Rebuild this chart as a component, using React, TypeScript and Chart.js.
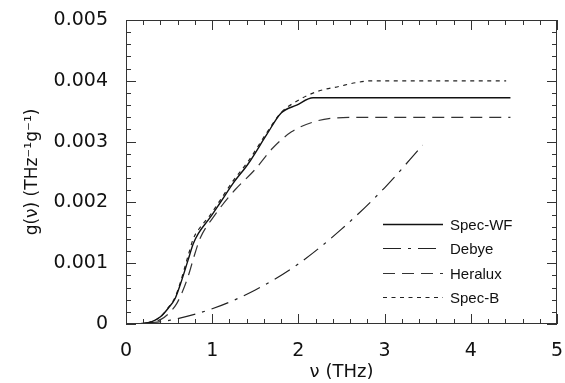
import React, { useEffect, useRef } from "react";
import { Chart, registerables } from "chart.js";

Chart.register(...registerables);

// ---- data ----
const specWF_x = [0.15, 0.3, 0.4, 0.49, 0.57, 0.63, 0.72, 0.78, 0.84, 0.97, 1.09, 1.24, 1.42, 1.63, 1.8, 1.98, 2.17, 4.46];
const specWF_y = [0, 0.00004, 0.00012, 0.00026, 0.00042, 0.00065, 0.00105, 0.00132, 0.00149, 0.00174, 0.00199, 0.00231, 0.00264, 0.00311, 0.00347, 0.0036, 0.00372, 0.00372];

const debye_x = [0.2, 0.5, 1.0, 1.5, 2.0, 2.5, 3.0, 3.44];
const debye_y = [0.00001, 0.00006, 0.00025, 0.00056, 0.00099, 0.00156, 0.00224, 0.00294];

const heralux_x = [0.15, 0.3, 0.41, 0.5, 0.59, 0.66, 0.72, 0.8, 0.86, 1.03, 1.26, 1.49, 1.7, 1.92, 2.19, 2.44, 2.7, 4.46];
const heralux_y = [0, 0.00003, 0.00008, 0.00018, 0.00034, 0.00055, 0.00078, 0.00116, 0.00141, 0.00179, 0.0022, 0.00253, 0.00289, 0.00316, 0.00333, 0.00339, 0.0034, 0.0034];

const specB_x = [0.15, 0.3, 0.4, 0.49, 0.57, 0.63, 0.72, 0.78, 0.84, 0.97, 1.09, 1.24, 1.42, 1.63, 1.8, 1.94, 2.21, 2.48, 2.67, 2.85, 4.41];
const specB_y = [0, 0.00004, 0.00012, 0.00027, 0.00044, 0.00068, 0.00112, 0.0014, 0.00155, 0.00178, 0.00203, 0.00235, 0.00268, 0.00314, 0.00348, 0.00363, 0.00382, 0.00391, 0.00397, 0.004, 0.004];

const seriesLabels = ["Spec-WF", "Debye", "Heralux", "Spec-B"];
const xTickLabels = ["0", "1", "2", "3", "4", "5"];
const yTickLabels = ["0", "0.001", "0.002", "0.003", "0.004", "0.005"];

const toPts = (xs: number[], ys: number[]) => xs.map((x, i) => ({ x, y: ys[i] }));

const TICK_FONT = "'DejaVu Sans', sans-serif";
const LEGEND_FONT = "'Liberation Sans', Arial, sans-serif";

const framePlugin = {
  id: "frameTicksLegend",
  afterDraw(chart: any) {
    const { ctx, chartArea: a, scales } = chart;
    const xs = scales.x;
    const ys = scales.y;
    ctx.save();
    ctx.fillStyle = "#333";
    const L = Math.round(a.left);
    const R = Math.round(a.right);
    const T = Math.round(a.top);
    const B = Math.round(a.bottom);
    // frame
    ctx.fillRect(L, T, R - L, 1);
    ctx.fillRect(L, B - 1, R - L, 1);
    ctx.fillRect(L, T, 1, B - T);
    ctx.fillRect(R - 1, T, 1, B - T);
    // x ticks (major every 1, minor every 0.2) on bottom and top
    for (let i = 0; i <= 25; i++) {
      const px = Math.round(xs.getPixelForValue(i * 0.2));
      const len = i % 5 === 0 ? 10 : 5;
      ctx.fillRect(px, B - len, 1, len);
      ctx.fillRect(px, T, 1, len);
    }
    // y ticks (major every 0.001, minor every 0.0002) on left and right
    for (let i = 0; i <= 25; i++) {
      const py = Math.round(ys.getPixelForValue(i * 0.0002));
      const len = i % 5 === 0 ? 10 : 5;
      ctx.fillRect(L, py, len, 1);
      ctx.fillRect(R - len, py, len, 1);
    }

    // legend inside plot area
    const x0 = a.right - 174;
    const x1 = a.right - 114;
    const tx = a.right - 107;
    const y0 = a.bottom - 100;
    const dy = 24.3;
    ctx.font = `15px ${LEGEND_FONT}`;
    ctx.textBaseline = "middle";
    ctx.textAlign = "left";
    chart.data.datasets.forEach((ds: any, i: number) => {
      const y = Math.round(y0 + i * dy) + 0.5;
      ctx.beginPath();
      ctx.strokeStyle = ds.borderColor;
      ctx.lineWidth = ds.borderWidth;
      ctx.setLineDash(ds.borderDash || []);
      ctx.moveTo(x0, y);
      ctx.lineTo(x1, y);
      ctx.stroke();
      ctx.setLineDash([]);
      ctx.fillStyle = "#111";
      ctx.fillText(ds.label, tx, y + 1);
    });
    ctx.restore();
  },
};

const zeroPad = (s: any) => {
  s.paddingLeft = 0;
  s.paddingRight = 0;
  s.paddingTop = 0;
  s.paddingBottom = 0;
};

export default function App() {
  const ref = useRef<HTMLCanvasElement | null>(null);
  useEffect(() => {
    if (!ref.current) return;
    const common = { pointRadius: 0, fill: false, cubicInterpolationMode: "monotone" as const };
    const chart = new Chart(ref.current, {
      type: "line",
      data: {
        datasets: [
          { ...common, label: seriesLabels[0], data: toPts(specWF_x, specWF_y), borderColor: "#111", borderWidth: 1.4, borderDash: [] },
          { ...common, label: seriesLabels[1], data: toPts(debye_x, debye_y), borderColor: "#222", borderWidth: 1.2, borderDash: [18, 7, 3, 7] },
          { ...common, label: seriesLabels[2], data: toPts(heralux_x, heralux_y), borderColor: "#333", borderWidth: 1.2, borderDash: [12, 7] },
          { ...common, label: seriesLabels[3], data: toPts(specB_x, specB_y), borderColor: "#222", borderWidth: 1.2, borderDash: [4, 4.5] },
        ],
      },
      options: {
        animation: false,
        responsive: false,
        maintainAspectRatio: false,
        layout: { padding: { top: 20, right: 8, left: 0, bottom: 0 } },
        plugins: { legend: { display: false }, tooltip: { enabled: false } },
        scales: {
          x: {
            type: "linear",
            min: 0,
            max: 5,
            grid: { display: false, drawTicks: false },
            border: { display: false },
            ticks: {
              stepSize: 1,
              padding: 16,
              color: "#111",
              font: { family: TICK_FONT, size: 19 },
              callback: (v: any) => xTickLabels[Math.round(Number(v))] ?? "",
              maxRotation: 0,
            },
            title: {
              display: true,
              text: "ν (THz)",
              color: "#111",
              font: { family: TICK_FONT, size: 18 },
              padding: { top: 0, bottom: 0 },
            },
            afterFit: (s: any) => {
              s.height = 59;
              zeroPad(s);
            },
          },
          y: {
            type: "linear",
            min: 0,
            max: 0.005,
            grid: { display: false, drawTicks: false },
            border: { display: false },
            ticks: {
              stepSize: 0.001,
              padding: 18,
              color: "#111",
              font: { family: TICK_FONT, size: 19 },
              callback: (v: any) => yTickLabels[Math.round(Number(v) / 0.001)] ?? "",
            },
            title: {
              display: true,
              text: "g(ν) (THz⁻¹g⁻¹)",
              color: "#111",
              font: { family: TICK_FONT, size: 17 },
              padding: { top: 22, bottom: 0 },
            },
            afterFit: (s: any) => {
              s.width = 126;
              zeroPad(s);
            },
          },
        },
      },
      plugins: [framePlugin],
    });
    return () => chart.destroy();
  }, []);
  return (
    <div style={{ position: "fixed", left: 0, top: 0, width: 565, height: 383, background: "#fff" }}>
      <canvas ref={ref} width={565} height={383} style={{ display: "block" }} />
    </div>
  );
}
